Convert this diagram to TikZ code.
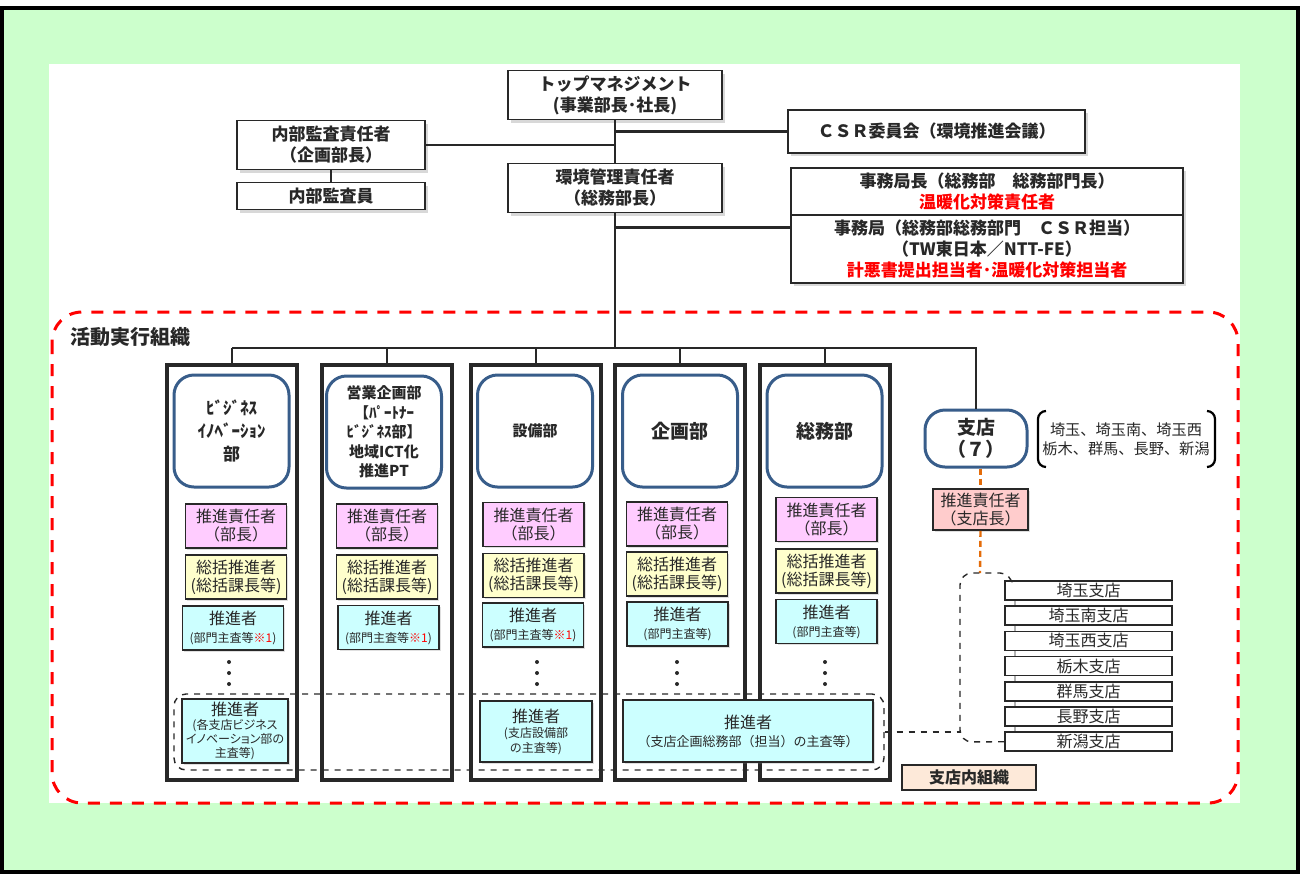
\documentclass[tikz,border=0pt]{standalone}
\usepackage{fontspec}
\setmainfont{Noto Sans CJK JP}
\newfontfamily\narrowjp[RawFeature=+palt]{Noto Sans CJK JP}
\usetikzlibrary{shadows, calc}

\definecolor{pagebg}{RGB}{204,255,204}
\definecolor{rolepink}{RGB}{255,204,255}
\definecolor{roleyellow}{RGB}{255,255,204}
\definecolor{rolecyan}{RGB}{204,255,255}
\definecolor{rimblue}{RGB}{56,93,138}
\definecolor{chiefpink}{RGB}{255,204,204}
\definecolor{peach}{RGB}{253,233,217}
\definecolor{branchline}{RGB}{228,108,10}
\definecolor{ink}{RGB}{40,40,40}

\begin{document}
\begin{tikzpicture}[x=0.5pt, y=-0.5pt,
  every node/.style={inner sep=0pt, align=center, text=ink},
  box/.style={draw=ink, line width=0.9pt, fill=white,
              font=\bfseries\fontsize{8.5}{10.5}\selectfont,
              drop shadow={shadow xshift=1.5pt, shadow yshift=-1.5pt, opacity=0.3}},
  column/.style={draw=ink, line width=1.6pt, minimum width=65pt, minimum height=207.5pt},
  head/.style={draw=rimblue, line width=1.5pt, rounded corners=10pt, fill=white,
               minimum width=57.5pt, minimum height=56pt},
  role/.style={draw=ink, line width=0.9pt, minimum width=50.5pt, minimum height=22pt,
               font=\fontsize{8}{9}\selectfont,
               drop shadow={shadow xshift=0.8pt, shadow yshift=-0.8pt, opacity=0.25}},
  branch/.style={draw=ink, line width=0.8pt, fill=white, minimum width=83.5pt,
                 minimum height=9.5pt, font=\fontsize{8}{9}\selectfont},
  link/.style={draw=ink, line width=1.4pt},
  dots/.style={fill=ink}
]
\useasboundingbox (0,0) rectangle (1302,875);
\fill[white] (0,0) rectangle (1302,875);
\draw[fill=pagebg, line width=2pt] (2,8) rectangle (1298,872);
\fill[white] (49,64) rectangle (1240,803);

% activity frame
\draw[red, line width=1.5pt, dash pattern=on 6pt off 5pt, rounded corners=15pt]
  (52,312) rectangle (1238,803);
\node[font=\bfseries\fontsize{10}{12}\selectfont, anchor=west] (actlabel) at (70,337) {活動実行組織};

% management
\node[box, minimum width=107pt, minimum height=24.5pt] (tm) at (615,95)
  {トップマネジメント\\(事業部長･社長)};
\node[box, minimum width=94pt, minimum height=24.5pt] (audit) at (331,145)
  {内部監査責任者\\（企画部長）};
\node[box, minimum width=94pt, minimum height=13.5pt] (auditor) at (331,196) {内部監査員};
\node[box, minimum width=107pt, minimum height=24.5pt] (env) at (615,188)
  {環境管理責任者\\（総務部長）};
\node[box, minimum width=148.5pt, minimum height=21.5pt] (csr) at (936.5,131.5)
  {ＣＳＲ委員会（環境推進会議）};
\node[box, minimum width=196pt, minimum height=23.5pt] (secchief) at (987,191.5)
  {事務局長（総務部　総務部門長）\\{\color{red}温暖化対策責任者}};
\node[box, minimum width=196pt, minimum height=34pt] (secret) at (987,249)
  {事務局（総務部総務部門　ＣＳＲ担当）\\（TW東日本／NTT-FE）\\{\color{red}計悪書提出担当者･温暖化対策担当者}};

\coordinate (bus) at (615,348);
\draw[link] (tm.south) -- (env.north);
\draw[link] (env.south) -- (bus);
\draw[link] (audit.east) -- (audit.east -| tm.south);
\draw[link] (audit.south) -- (auditor.north);
\draw[link] (csr.west) -- (csr.west -| tm.south);
\draw[link] ($(secret.north west)+(0,13)$) -| (env.south);

% departments
\node[head, minimum width=51pt, minimum height=28.5pt, font=\bfseries\fontsize{9.5}{11}\selectfont]
  (shiten) at (976,438.5) {支店\\（７）};
\draw[link] (232,348) -- (976,348) -- (shiten.north);

\foreach \x [count=\i] in {232,387,536,680,825}{
  \node[column] (col\i) at (\x,572.5) {};
  \draw[link] (bus -| col\i.north) -- (col\i.north);
}

\node[head, font=\bfseries\fontsize{8.5}{11.5}\selectfont] (head1) at (231.5,431)
  {ﾋﾞｼﾞﾈｽ\\ｲﾉﾍﾞｰｼｮﾝ\\部};
\node[head, font=\bfseries\fontsize{7.5}{9.7}\selectfont] (head2) at (384,432)
  {営業企画部\\【ﾊﾟｰﾄﾅｰ\\ﾋﾞｼﾞﾈｽ部】\\地域ICT化\\推進PT};
\node[head, font=\bfseries\fontsize{7.5}{9}\selectfont] (head3) at (535,431) {設備部};
\node[head, font=\bfseries\fontsize{9.5}{11}\selectfont] (head4) at (680,431) {企画部};
\node[head, font=\bfseries\fontsize{9.5}{11}\selectfont] (head5) at (824.5,431) {総務部};

\foreach \x/\yp/\yy [count=\i] in {236/526/577, 387/526/577, 533.5/524.5/575.5,
                                   677/524/574, 826.5/519.5/571}{
  \node[role, fill=rolepink] (lead\i) at (\x,\yp) {推進責任者\\（部長）};
  \node[role, fill=roleyellow] (gen\i) at (\x,\yy) {総括推進者\\(総括課長等)};
}
\node[role, fill=rolecyan] (prom1) at (233,628)
  {推進者\\{\fontsize{6}{7.5}\selectfont(部門主査等{\color{red}※1})}};
\node[role, fill=rolecyan] (prom2) at (388.5,627.5)
  {推進者\\{\fontsize{6}{7.5}\selectfont(部門主査等{\color{red}※1})}};
\node[role, fill=rolecyan] (prom3) at (533,625)
  {推進者\\{\fontsize{6}{7.5}\selectfont(部門主査等{\color{red}※1})}};
\node[role, fill=rolecyan] (prom4) at (677.5,624)
  {推進者\\{\fontsize{6}{7.5}\selectfont(部門主査等)}};
\node[role, fill=rolecyan] (prom5) at (826.5,621.5)
  {推進者\\{\fontsize{6}{7.5}\selectfont(部門主査等)}};

\foreach \x in {229,537,677,825}
  \foreach \y in {662,673,684}
    \fill[dots] (\x,\y) circle (1pt);

% branch-level promoters
\node[role, fill=rolecyan, minimum width=53pt, minimum height=32pt,
      font=\narrowjp\fontsize{6}{7}\selectfont] (local1) at (235,731)
  {{\fontsize{8}{9}\selectfont 推進者}\\(各支店ビジネス\\イノベーション部の\\主査等)};
\node[role, fill=rolecyan, minimum width=56pt, minimum height=30.5pt,
      font=\fontsize{6}{7.5}\selectfont] (local3) at (536,731.5)
  {{\fontsize{8}{9}\selectfont 推進者}\\(支店設備部\\の主査等)};
\node[role, fill=rolecyan, minimum width=125pt, minimum height=31pt] (local45) at (748,731)
  {推進者\\{\fontsize{6.5}{8}\selectfont（支店企画総務部（担当）の主査等）}};
\node[draw=ink, dashed, line width=0.7pt, rounded corners=6pt, minimum width=355pt,
      minimum height=38pt] (local) at (529,732) {};

% branches
\node[font=\fontsize{7.6}{9.5}\selectfont] (area) at (1126,439)
  {埼玉、埼玉南、埼玉西\\栃木、群馬、長野、新潟};
\draw[line width=1.1pt, rounded corners=4pt] (1046,411) -- (1038,411) -- (1038,467) -- (1046,467);
\draw[line width=1.1pt, rounded corners=4pt] (1207,411) -- (1215,411) -- (1215,467) -- (1207,467);

\node[role, fill=chiefpink, minimum width=47.5pt, minimum height=20.5pt] (chief) at (980.5,509.5)
  {推進責任者\\（支店長）};
\coordinate (brtop) at (980,573);
\draw[branchline, line width=1.2pt, dash pattern=on 3pt off 2pt] (shiten.south -| chief.north) -- (chief.north);
\draw[branchline, line width=1.2pt, dash pattern=on 3pt off 2pt] (chief.south) -- (brtop);

\draw[gray!60, line width=0.6pt] (1015,581) -- (1015,751);
\foreach \t [count=\i] in {埼玉支店,埼玉南支店,埼玉西支店,栃木支店,群馬支店,長野支店,新潟支店}
  \node[branch] (br\i) at (1088.5,{590.5+25.2*(\i-1)}) {\t};

\draw[ink, dashed, line width=0.7pt, rounded corners=6pt]
  (br7.west) -- (960,742) -- (960,573) -- (1012,573) -- (1012,581);
\draw[ink, dashed, line width=0.7pt] (local.east) -- (960,732);

\node[draw=ink, line width=0.9pt, fill=peach, minimum width=67pt, minimum height=12.5pt,
      font=\bfseries\fontsize{8}{9}\selectfont] (inner) at (969,777.5) {支店内組織};
\end{tikzpicture}
\end{document}
